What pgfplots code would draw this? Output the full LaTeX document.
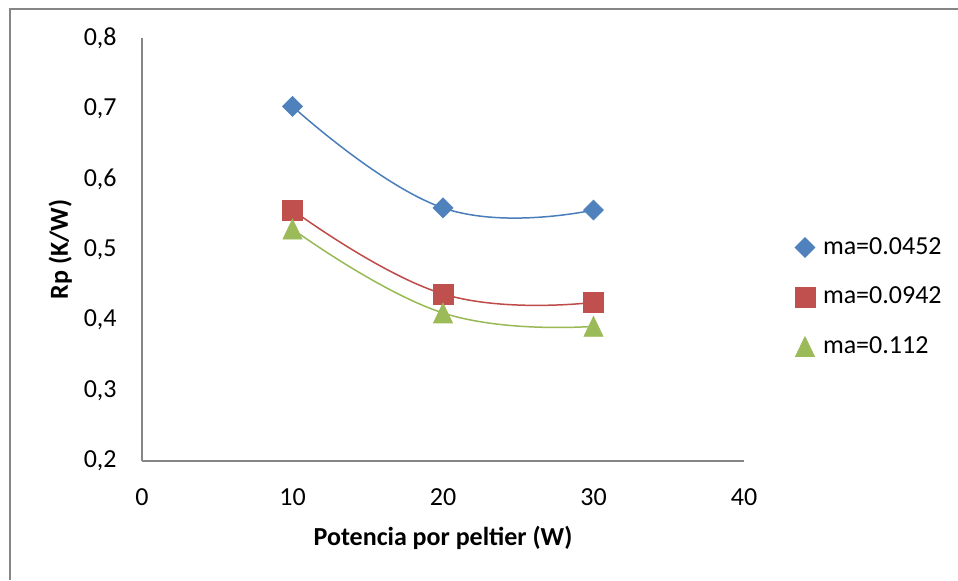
\documentclass[border=0pt]{standalone}
\usepackage{fontspec}
\setmainfont{Carlito}
\usepackage{pgfplots}
\pgfplotsset{compat=1.18}
\definecolor{sblue}{HTML}{4F81BD}
\definecolor{sred}{HTML}{C0504D}
\definecolor{sgreen}{HTML}{9BBB59}
\definecolor{lblue}{HTML}{4A7EBB}
\definecolor{lred}{HTML}{BE4B48}
\definecolor{lgreen}{HTML}{98B954}
\definecolor{axgray}{HTML}{868686}
\begin{document}
\begin{tikzpicture}[x=1pt,y=1pt]
\path[use as bounding box] (0,0) rectangle (479,290);
\draw[axgray, line width=1pt] (4.75,0) -- (4.75,285.5) -- (479,285.5);
\begin{axis}[
  at={(71pt,59.5pt)}, anchor=south west,
  scale only axis, width=301pt, height=211.5pt,
  xmin=0, xmax=40, ymin=0.2, ymax=0.8,
  xtick={0,10,20,30,40},
  ytick={0.2,0.3,0.4,0.5,0.6,0.7,0.8},
  axis x line=bottom, axis y line=left,
  axis line style={-, axgray, line width=0.7pt},
  major tick length=0pt,
  /pgf/number format/assume math mode=true,
  /pgf/number format/use comma,
  yticklabel style={/pgf/number format/fixed, /pgf/number format/fixed zerofill, /pgf/number format/precision=1},
  tick label style={font=\fontsize{13}{15}\selectfont, inner sep=0pt},
  yticklabel style={anchor=east, xshift=-12.5pt},
  xticklabel style={anchor=north, yshift=-13.5pt},
  xlabel={Potencia por peltier (W)},
  ylabel={Rp (K/W)},
  label style={font=\fontsize{13}{15}\selectfont\bfseries},
  xlabel style={at={(axis description cs:0.5,-0.1986)}, anchor=base, inner sep=0pt},
  ylabel style={at={(axis description cs:-0.1230,0.5)}, anchor=base, rotate=0, inner sep=0pt},
  clip=false,
  legend style={draw=none, fill=none, inner sep=0pt, outer sep=0pt, at={(axis description cs:1.0847,0.3877)}, anchor=west,
    font=\fontsize{13}{15}\selectfont, legend cell align=left,
    nodes={inner sep=0pt, minimum height=24.75pt},
    row sep=0pt,
    /tikz/every odd column/.append style={column sep=4pt}},
  legend image code/.code={\draw[#1, sharp plot] plot coordinates {(5pt,0pt)};},
]
\addplot[lblue, line width=0.75pt, smooth, tension=0.75, mark=square*, mark size=3.54pt,
  mark options={sblue, fill=sblue, rotate=45, line width=0.3pt}]
  coordinates {(10,0.703) (20,0.559) (30,0.556)};
\addlegendentry{ma=0.0452}
\addplot[lred, line width=0.75pt, smooth, tension=0.75, mark=square*, mark size=5pt,
  mark options={sred, fill=sred, line width=0.3pt}]
  coordinates {(10,0.556) (20,0.437) (30,0.425)};
\addlegendentry{ma=0.0942}
\addplot[lgreen, line width=0.75pt, smooth, tension=0.75, mark=triangle*, mark size=6.67pt,
  mark options={sgreen, fill=sgreen, xscale=0.83, yshift=-1.67pt, line width=0.3pt}]
  coordinates {(10,0.529) (20,0.410) (30,0.391)};
\addlegendentry{ma=0.112}
\end{axis}
\end{tikzpicture}
\end{document}
